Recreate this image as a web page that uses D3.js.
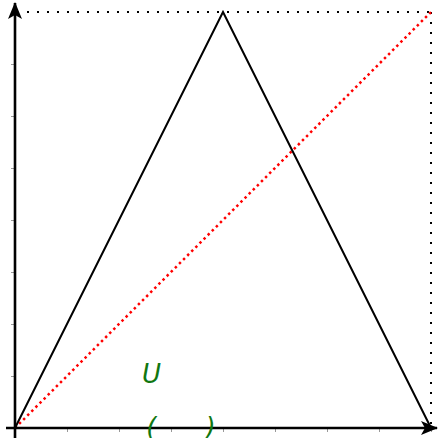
<!DOCTYPE html>
<html>
<head>
<meta charset="utf-8">
<script src="https://cdn.jsdelivr.net/npm/d3@7"></script>
<style>
  html, body { margin: 0; padding: 0; background: #fff; }
  svg { display: block; }
</style>
</head>
<body>
<svg id="chart" width="438" height="438"></svg>
<script>
// Tent map T(x) = 1 - |2x - 1| on the unit interval
const tentX = [0, 0.5, 1];
const tentY = [0, 1, 0];
// Identity line y = x
const diagX = [0, 1];
const diagY = [0, 1];
// Tick positions on both axes
const tickValues = [0.125, 0.25, 0.375, 0.5, 0.625, 0.75, 0.875, 1];
// Interval U marked on the x axis
const intervalBounds = [0.328, 0.47];
const intervalGlyphs = ["(", ")"];
const setLabel = "U";

const svg = d3.select("#chart");
const x = d3.scaleLinear().domain([0, 1]).range([15, 431]);
const y = d3.scaleLinear().domain([0, 1]).range([428, 12]);

// Arrowheads
const defs = svg.append("defs");
defs.append("marker")
  .attr("id", "arrow")
  .attr("viewBox", "0 0 17 14")
  .attr("refX", 16).attr("refY", 7)
  .attr("markerWidth", 17).attr("markerHeight", 14)
  .attr("markerUnits", "userSpaceOnUse")
  .attr("orient", "auto")
  .append("path")
  .attr("d", "M0,0 L17,7 L0,14 L4,7 Z")
  .attr("fill", "#000");

// Ticks
svg.append("g")
  .attr("transform", `translate(0,${y(0)})`)
  .call(d3.axisBottom(x).tickValues(tickValues).tickFormat("").tickSizeInner(4).tickSizeOuter(0))
  .call(g => g.select(".domain").remove())
  .call(g => g.selectAll(".tick line").attr("stroke", "#999"));
svg.append("g")
  .attr("transform", `translate(${x(0)},0)`)
  .call(d3.axisLeft(y).tickValues(tickValues).tickFormat("").tickSizeInner(4).tickSizeOuter(0))
  .call(g => g.select(".domain").remove())
  .call(g => g.selectAll(".tick line").attr("stroke", "#999"));

// Dotted frame at y = 1 and x = 1
svg.append("line")
  .attr("x1", x(0) + 12).attr("y1", y(1)).attr("x2", x(1)).attr("y2", y(1))
  .attr("stroke", "#000").attr("stroke-width", 2).attr("stroke-dasharray", "2,8");
svg.append("line")
  .attr("x1", x(1)).attr("y1", y(1)).attr("x2", x(1)).attr("y2", y(0))
  .attr("stroke", "#000").attr("stroke-width", 2).attr("stroke-dasharray", "2,8");

// Identity line
const line = d3.line().x(d => x(d[0])).y(d => y(d[1]));
svg.append("path")
  .datum(diagX.map((v, i) => [v, diagY[i]]))
  .attr("d", line)
  .attr("fill", "none")
  .attr("stroke", "#ff0000").attr("stroke-width", 2.5).attr("stroke-dasharray", "2.5,3.3");

// Tent map graph
svg.append("path")
  .datum(tentX.map((v, i) => [v, tentY[i]]))
  .attr("d", line)
  .attr("fill", "none")
  .attr("stroke", "#000").attr("stroke-width", 2).attr("stroke-linejoin", "miter");

// Axes with arrows
svg.append("line")
  .attr("x1", x(0) - 9).attr("y1", y(0)).attr("x2", 437).attr("y2", y(0))
  .attr("stroke", "#000").attr("stroke-width", 2.6).attr("marker-end", "url(#arrow)");
svg.append("line")
  .attr("x1", x(0)).attr("y1", y(0) + 10).attr("x2", x(0)).attr("y2", 3)
  .attr("stroke", "#000").attr("stroke-width", 2.6).attr("marker-end", "url(#arrow)");

// Interval U
const green = "#117711";
svg.selectAll("text.bound")
  .data(intervalBounds)
  .join("text")
  .attr("class", "bound")
  .attr("x", d => x(d))
  .attr("y", y(0) + 8)
  .attr("text-anchor", "middle")
  .attr("font-family", "DejaVu Sans")
  .attr("font-style", "oblique")
  .attr("font-size", 26)
  .attr("fill", green)
  .text((d, i) => intervalGlyphs[i]);
svg.append("text")
  .attr("x", x(intervalBounds[0]))
  .attr("y", 383)
  .attr("text-anchor", "middle")
  .attr("font-family", "DejaVu Sans")
  .attr("font-style", "oblique")
  .attr("font-size", 26)
  .attr("fill", green)
  .text(setLabel);
</script>
</body>
</html>
